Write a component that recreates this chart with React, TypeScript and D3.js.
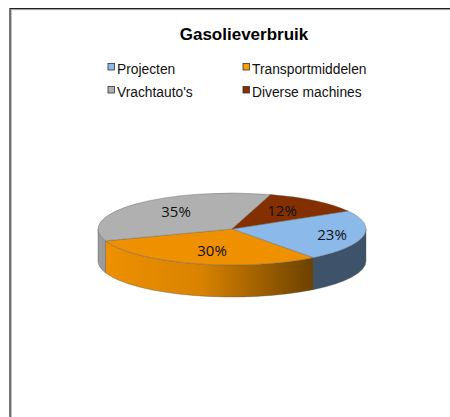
import React from "react";
import * as d3 from "d3";

const title = "Gasolieverbruik";
const categories = ["Projecten", "Transportmiddelen", "Vrachtauto's", "Diverse machines"];
const values = [23, 30, 35, 12];
const topColors = ["#8ab9ea", "#ee9000", "#b0b0b0", "#832f00"];
const sideColors = ["#3e5269", "url(#orangeSide)", "#9b9b9b", "#5a2000"];
const legendSwatches = ["#8ab9ea", "#ff9c00", "#b0b0b0", "#8a3000"];

const W = 450, H = 417;
const cx = 232, cy = 229, rx = 134, ry = 36, depth = 32;
const start = (60 * Math.PI) / 180;

const pie = d3.pie<number>().sort(null).startAngle(start).endAngle(start + 2 * Math.PI);
const arcs = pie(values);
const arcGen = d3.arc<any>().innerRadius(0).outerRadius(1);

const px = (t: number) => cx + rx * Math.sin(t);
const py = (t: number) => cy - ry * Math.cos(t);

function wall(a0: number, a1: number): string | null {
  const segs: [number, number][] = [];
  for (const k of [0, 2 * Math.PI]) {
    const lo = Math.max(a0, Math.PI / 2 + k), hi = Math.min(a1, 1.5 * Math.PI + k);
    if (hi > lo) segs.push([lo, hi]);
  }
  if (!segs.length) return null;
  return segs
    .map(([lo, hi]) =>
      `M${px(lo)},${py(lo)} A${rx},${ry} 0 0 1 ${px(hi)},${py(hi)} L${px(hi)},${py(hi) + depth} A${rx},${ry} 0 0 0 ${px(lo)},${py(lo) + depth} Z`
    )
    .join(" ");
}

const labelPos = [
  [332, 235],
  [212, 251],
  [176, 212],
  [282, 211],
];

const legendPos = [
  [108, 69],
  [243, 69],
  [108, 92],
  [243, 92],
];

export default function App() {
  return (
    <svg width={W} height={H} style={{ position: "absolute", left: 0, top: 0, background: "#fff" }}>
      <defs>
        <linearGradient id="orangeSide" gradientUnits="userSpaceOnUse" x1={106} x2={315} y1={0} y2={0}>
          <stop offset="0" stopColor="#ee9000" />
          <stop offset="0.45" stopColor="#d98300" />
          <stop offset="1" stopColor="#6a4000" />
        </linearGradient>
      </defs>
      <path d="M10.5,417 V9 H450" fill="none" stroke="#999" strokeWidth={1} transform="translate(0.6,0.6)" />
      <path d="M10,417 V8.5 H450" fill="none" stroke="#222" strokeWidth={1.2} />
      <text x={244} y={39.5} textAnchor="middle" fontFamily="Liberation Sans" fontWeight="bold" fontSize={17} fill="#000">
        {title}
      </text>
      {categories.map((c, i) => (
        <g key={c}>
          <rect x={legendPos[i][0]} y={legendPos[i][1] - 5.5} width={6.5} height={6.5} fill={legendSwatches[i]} stroke="#333" strokeWidth={0.8} />
          <text x={legendPos[i][0] + 9} y={legendPos[i][1] + 5} fontFamily="Liberation Sans" fontSize={13.8} fill="#111">
            {c}
          </text>
        </g>
      ))}
      {arcs.map((a, i) => {
        const d = wall(a.startAngle, a.endAngle);
        return d ? <path key={i} d={d} fill={sideColors[i]} stroke="#555" strokeWidth={0.4} /> : null;
      })}
      <g transform={`translate(${cx},${cy}) scale(${rx},${ry})`}>
        {arcs.map((a, i) => (
          <path key={i} d={arcGen(a) as string} fill={topColors[i]} stroke="#666" strokeWidth={0.4} vectorEffect="non-scaling-stroke" />
        ))}
      </g>
      {values.map((v, i) => (
        <text key={i} x={labelPos[i][0]} y={labelPos[i][1] + 5} textAnchor="middle" fontFamily="Open Sans, Liberation Sans" fontSize={15} fill="#111">
          {v}%
        </text>
      ))}
    </svg>
  );
}
